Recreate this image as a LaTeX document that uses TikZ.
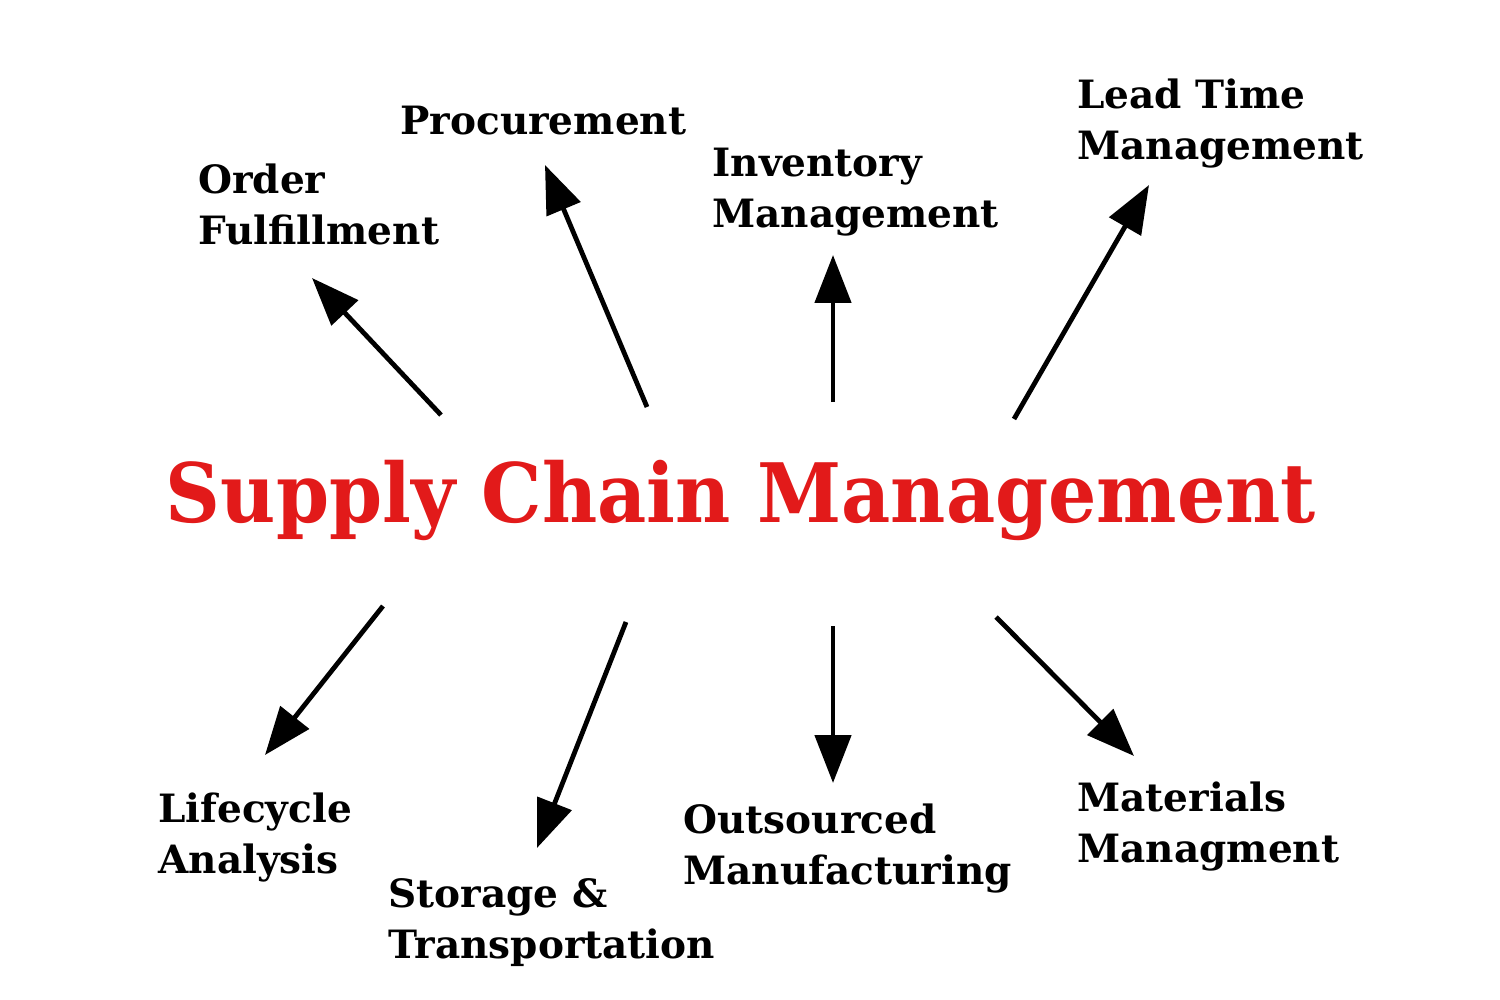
\documentclass[tikz,border=0pt]{standalone}
\usepackage{fontspec}
\setmainfont{DejaVu Serif}
\usetikzlibrary{arrows.meta}
\definecolor{scmred}{HTML}{E21A1A}
\tikzset{
  lbl/.style={anchor=base west, inner sep=0pt, align=left, font=\fontsize{19.5}{25.5}\selectfont\bfseries, text=black},
  ttl/.style={anchor=base, inner sep=0pt, font=\fontsize{41}{48}\selectfont\bfseries, text=scmred},
  arr/.style={line width=2.4pt, -{Triangle[length=24pt,width=18pt]}}
}
\begin{document}
\begin{tikzpicture}[x=0.5pt,y=-0.5pt]
\useasboundingbox (0,0) rectangle (1500,1000);
\node[ttl] (title) at (741,522) {\scalebox{0.927}[1]{Supply Chain Management}};
\node[lbl] (of) at (198,245) {Order\\Fulfillment};
\node[lbl] (pr) at (400,135) {Procurement};
\node[lbl] (im) at (712,228) {Inventory\\Management};
\node[lbl] (lt) at (1077,160) {Lead Time\\Management};
\node[lbl] (la) at (158,873) {Lifecycle\\Analysis};
\node[lbl] (st) at (388,958) {Storage \&\\Transportation};
\node[lbl] (om) at (683,884) {Outsourced\\Manufacturing};
\node[lbl] (mm) at (1077,862) {Materials\\Managment};
\coordinate (t1) at (441,415); \coordinate (h1) at (312,278);
\coordinate (t2) at (647,407); \coordinate (h2) at (545,165);
\coordinate (t3) at (833,402); \coordinate (h3) at (833,255);
\coordinate (t4) at (1014,419); \coordinate (h4) at (1149,185);
\coordinate (t5) at (383,606); \coordinate (h5) at (265,755);
\coordinate (t6) at (626,622); \coordinate (h6) at (537,848);
\coordinate (t7) at (833,626); \coordinate (h7) at (833,783);
\coordinate (t8) at (996,617); \coordinate (h8) at (1134,756);
\foreach \i in {1,...,8} \draw[arr] (t\i) -- (h\i);
\end{tikzpicture}
\end{document}
